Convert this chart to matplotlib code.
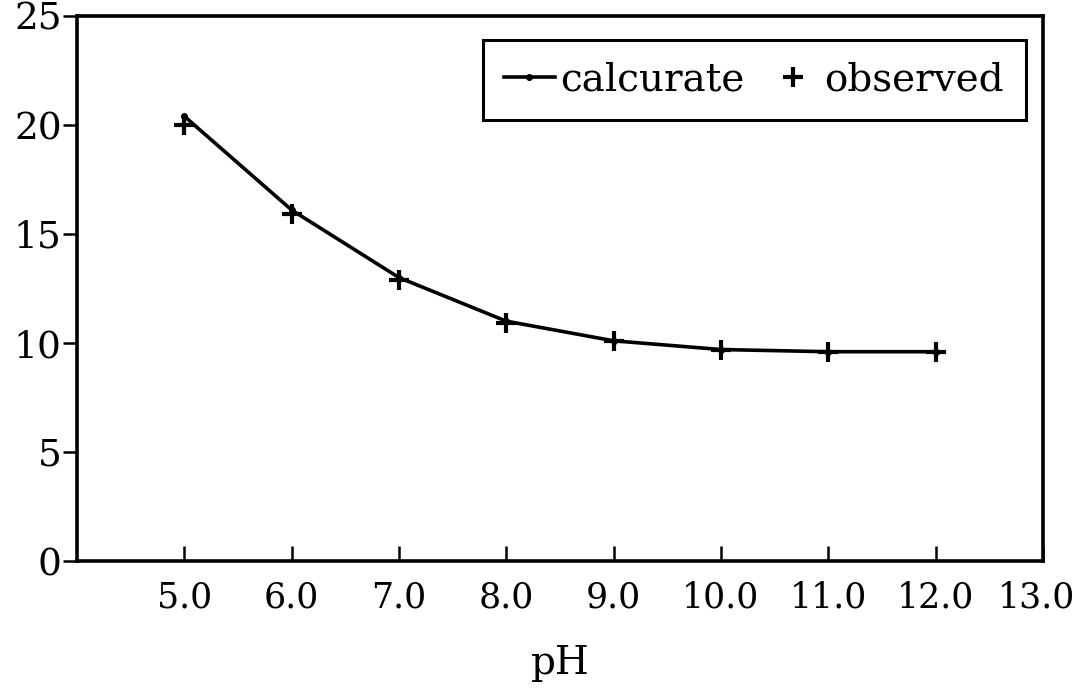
import matplotlib
matplotlib.use("Agg")
import matplotlib.pyplot as plt
from matplotlib.transforms import ScaledTranslation

ph = [5.0, 6.0, 7.0, 8.0, 9.0, 10.0, 11.0, 12.0]
calculated = [20.4, 16.1, 13.0, 11.0, 10.1, 9.7, 9.6, 9.6]
observed = [20.0, 15.9, 12.9, 10.9, 10.1, 9.7, 9.6, 9.6]
x_ticks = [5.0, 6.0, 7.0, 8.0, 9.0, 10.0, 11.0, 12.0, 13.0]
x_tick_labels = ["5.0", "6.0", "7.0", "8.0", "9.0", "10.0", "11.0", "12.0", "13.0"]
y_ticks = [0, 5, 10, 15, 20, 25]
y_tick_labels = ["0", "5", "10", "15", "20", "25"]

plt.rcParams['font.family'] = ['DejaVu Serif']

fig = plt.figure(figsize=(10.74, 6.94), dpi=100)
ax = fig.add_axes([77/1074, 1-561/694, (1043-77)/1074, (561-16)/694])

ax.plot(ph, calculated, color='black', lw=2.6, marker='o', markersize=4,
        label='calcurate')
ax.plot(ph, observed, color='black', lw=0, marker='+', markersize=15,
        markeredgewidth=3, label='observed')

ax.set_xlim(4.0, 13.0)
ax.set_ylim(0, 25)
ax.set_xticks(x_ticks)
ax.set_xticklabels(x_tick_labels)
ax.set_yticks(y_ticks)
ax.set_yticklabels(y_tick_labels)

for s in ax.spines.values():
    s.set_linewidth(2.6)
    s.set_color('black')

ax.tick_params(axis='x', direction='in', length=11, width=1.8, pad=14,
               labelsize=25)
ax.tick_params(axis='y', direction='out', length=10, width=1.8, pad=1,
               labelsize=27)

# nudge the last x tick label so it stays inside the figure
last = ax.get_xticklabels()[-1]
last.set_transform(last.get_transform() +
                   ScaledTranslation(-6/100, 0, fig.dpi_scale_trans))

ax.set_xlabel('pH', fontsize=28, labelpad=22)

leg = ax.legend(loc='upper right', bbox_to_anchor=(1.0, 0.988), ncol=2,
                fontsize=28, frameon=True, fancybox=False, edgecolor='black',
                framealpha=1.0, handlelength=1.3, handletextpad=0.15,
                columnspacing=0.6, borderpad=0.55, borderaxespad=0.45)
leg.get_frame().set_linewidth(2.2)

fig.savefig('out.png', dpi=100)
